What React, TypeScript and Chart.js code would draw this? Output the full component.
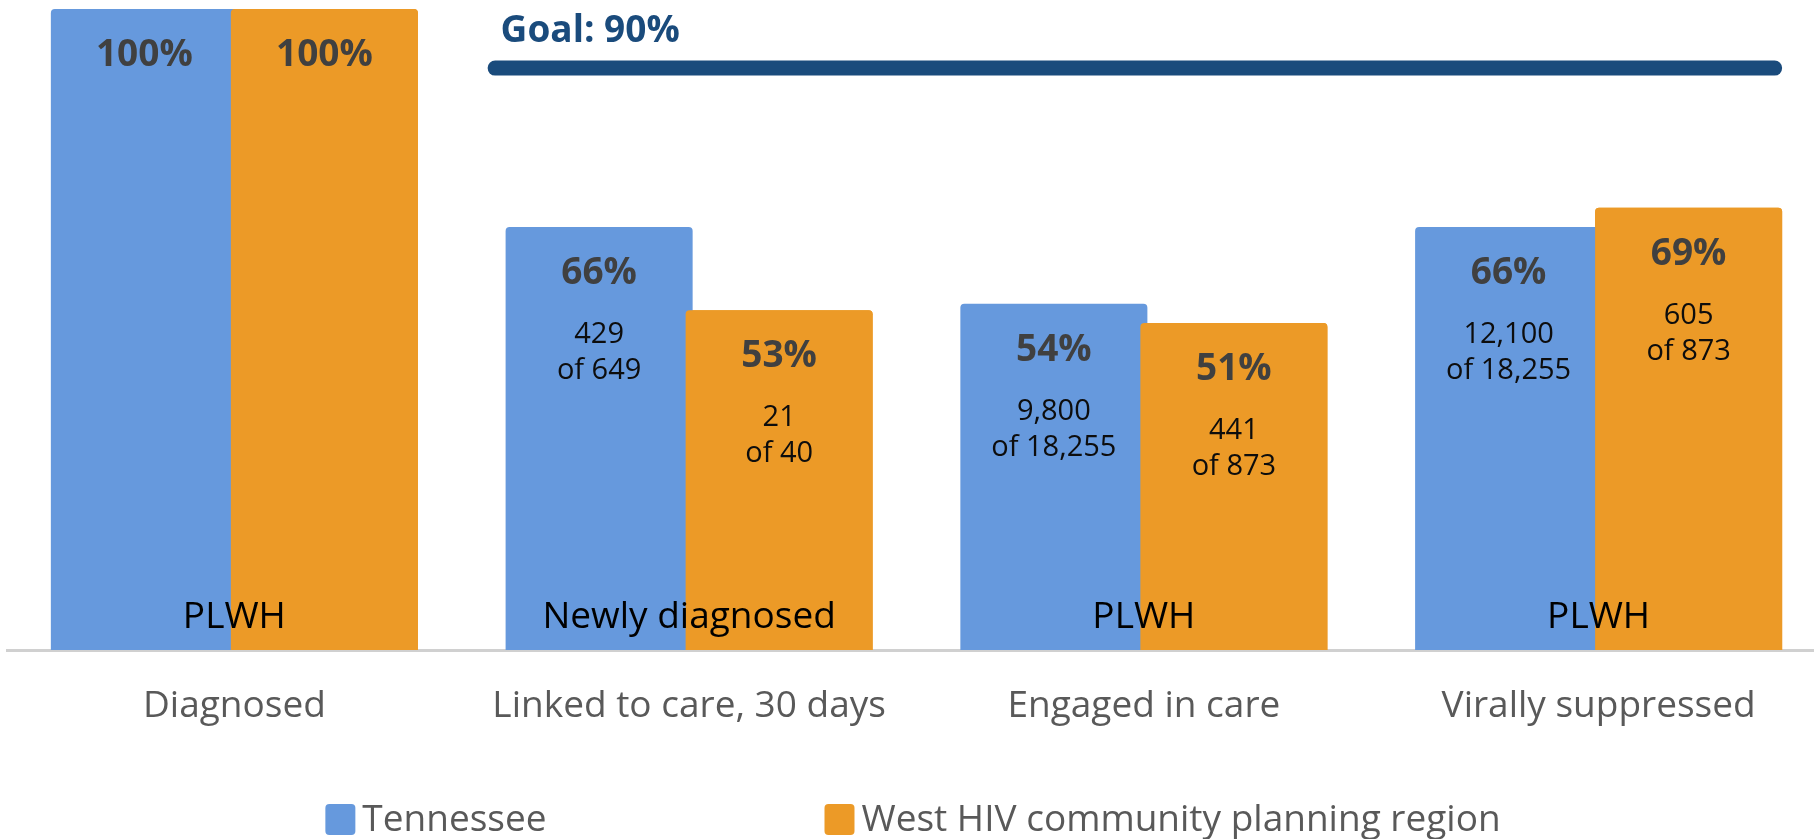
import React, { useEffect, useRef } from 'react';
import { Chart, registerables } from 'chart.js';

Chart.register(...registerables);

const categories = ['Diagnosed', 'Linked to care, 30 days', 'Engaged in care', 'Virally suppressed'];
const seriesNames = ['Tennessee', 'West HIV community planning region'];
const tennesseeValues = [100, 66, 54, 66];
const westValues = [100, 53, 51, 69];
const tennesseeCounts: (string[] | null)[] = [null, ['429', 'of 649'], ['9,800', 'of 18,255'], ['12,100', 'of 18,255']];
const westCounts: (string[] | null)[] = [null, ['21', 'of 40'], ['441', 'of 873'], ['605', 'of 873']];
const populationLabels = ['PLWH', 'Newly diagnosed', 'PLWH', 'PLWH'];
const goalValue = 90;
const goalLabel = 'Goal: 90%';

const BLUE = '#6699DD';
const ORANGE = '#EC9A27';
const NAVY = '#1A4B7C';
const FONT = '"Open Sans", "DejaVu Sans", sans-serif';
const CANVAS_W = 1826;
const CANVAS_H = 839;

const labelsPlugin = {
  id: 'cascadeLabels',
  afterDatasetsDraw(chart: any) {
    const ctx: CanvasRenderingContext2D = chart.ctx;
    const xs = chart.scales.x;
    const ys = chart.scales.y;
    ctx.save();
    // redraw second series on top (overlap as in reference)
    const m1 = chart.getDatasetMeta(1);
    m1.data.forEach((el: any) => el.draw(ctx, chart.chartArea));

    ctx.textAlign = 'center';
    ctx.textBaseline = 'alphabetic';
    const counts = [tennesseeCounts, westCounts];
    chart.data.datasets.forEach((ds: any, di: number) => {
      const meta = chart.getDatasetMeta(di);
      meta.data.forEach((bar: any, i: number) => {
        const { x: bx, y: by } = bar.getProps(['x', 'y'], true);
        ctx.font = `bold 37px ${FONT}`;
        ctx.fillStyle = '#404040';
        ctx.fillText(`${ds.data[i]}%`, bx, by + 57);
        const c = counts[di][i];
        if (c) {
          ctx.font = `29px ${FONT}`;
          ctx.fillStyle = '#0D0D0D';
          ctx.fillText(c[0], bx, by + 116);
          ctx.fillText(c[1], bx, by + 152);
        }
      });
    });

    // population labels inside bars
    const base = ys.getPixelForValue(0);
    ctx.font = `37px ${FONT}`;
    ctx.fillStyle = '#000000';
    populationLabels.forEach((t, i) => {
      ctx.fillText(t, xs.getPixelForValue(i), base - 22);
    });

    // goal line
    const m0 = chart.getDatasetMeta(0);
    const startBar = m0.data[1];
    const endBar = m1.data[m1.data.length - 1];
    const x0 = startBar.x - startBar.width / 2 - 18;
    const x1 = endBar.x + endBar.width / 2;
    const gy = ys.getPixelForValue(goalValue) - 5;
    const lw = 15;
    ctx.strokeStyle = NAVY;
    ctx.lineWidth = lw;
    ctx.lineCap = 'round';
    ctx.beginPath();
    ctx.moveTo(x0 + lw / 2, gy);
    ctx.lineTo(x1 - lw / 2, gy);
    ctx.stroke();
    ctx.font = `bold 37px ${FONT}`;
    ctx.fillStyle = NAVY;
    ctx.textAlign = 'left';
    ctx.fillText(goalLabel, x0 + 13, gy - 26);
    ctx.restore();
  },
};

const legendPlugin = {
  id: 'customLegend',
  afterDraw(chart: any) {
    const ctx: CanvasRenderingContext2D = chart.ctx;
    ctx.save();
    ctx.font = `37px ${FONT}`;
    const boxW = 30;
    const boxH = 31;
    const textGap = 7;
    const itemGap = 278;
    const items = chart.data.datasets.map((ds: any) => ({
      text: ds.label as string,
      color: ds.backgroundColor as string,
      w: boxW + textGap + ctx.measureText(ds.label).width,
    }));
    const total = items.reduce((s: number, it: any) => s + it.w, 0) + itemGap * (items.length - 1);
    let x = chart.width / 2 - total / 2;
    const boxTop = chart.height - 35;
    items.forEach((it: any) => {
      ctx.fillStyle = it.color;
      ctx.beginPath();
      (ctx as any).roundRect(x, boxTop, boxW, boxH, 4);
      ctx.fill();
      ctx.fillStyle = '#595959';
      ctx.textAlign = 'left';
      ctx.textBaseline = 'alphabetic';
      ctx.fillText(it.text, x + boxW + textGap, boxTop + 27);
      x += it.w + itemGap;
    });
    ctx.restore();
  },
};

export default function App() {
  const ref = useRef<HTMLCanvasElement>(null);
  useEffect(() => {
    if (!ref.current) return;
    const chart = new Chart(ref.current, {
      type: 'bar',
      data: {
        labels: categories,
        datasets: [
          {
            label: seriesNames[0],
            data: tennesseeValues,
            backgroundColor: BLUE,
            borderRadius: { topLeft: 4, topRight: 4, bottomLeft: 0, bottomRight: 0 },
            borderSkipped: false,
            categoryPercentage: 0.7917,
            barPercentage: 1.039,
          },
          {
            label: seriesNames[1],
            data: westValues,
            backgroundColor: ORANGE,
            borderRadius: { topLeft: 4, topRight: 4, bottomLeft: 0, bottomRight: 0 },
            borderSkipped: false,
            categoryPercentage: 0.7917,
            barPercentage: 1.039,
          },
        ],
      },
      options: {
        responsive: false,
        animation: false,
        devicePixelRatio: 1,
        layout: { padding: { left: 7, right: 0, top: 9, bottom: 84.6 } },
        plugins: {
          legend: { display: false },
          tooltip: { enabled: false },
        },
        scales: {
          x: {
            z: 1,
            grid: { display: false },
            border: { display: true, color: '#D0D0D0', width: 3 },
            ticks: {
              font: { family: FONT, size: 37 },
              color: '#595959',
              padding: 26,
            },
          },
          y: { display: false, min: 0, max: 100 },
        },
      },
      plugins: [labelsPlugin, legendPlugin],
    });
    return () => chart.destroy();
  }, []);
  return (
    <div style={{ position: 'absolute', left: 0, top: 0, width: 1814, height: 839, overflow: 'hidden', background: '#fff' }}>
      <canvas ref={ref} width={CANVAS_W} height={CANVAS_H} style={{ width: CANVAS_W, height: CANVAS_H, display: 'block' }} />
    </div>
  );
}
